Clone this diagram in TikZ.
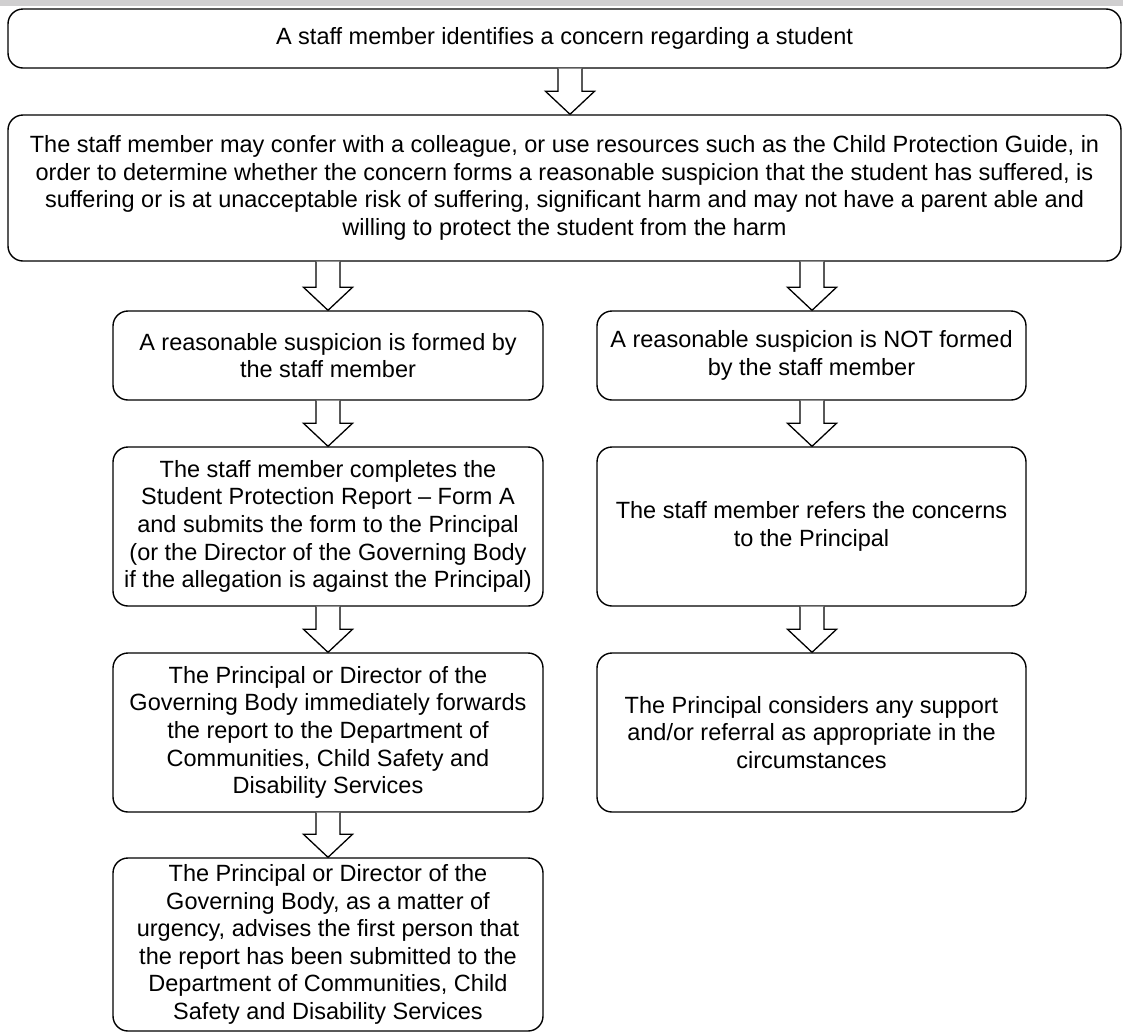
\documentclass[tikz,border=0pt]{standalone}
\usepackage{fontspec}
\setmainfont{Liberation Sans}
\usetikzlibrary{calc}
\definecolor{topbar}{RGB}{208,207,208}
\tikzset{
  box/.style={draw=black, line width=1.4pt, rounded corners=15pt, fill=white,
    align=center, inner sep=0pt, font=\fontsize{23.5}{27.6}\selectfont},
  barrowstyle/.style={draw=black, line width=1.3pt, fill=white, line join=miter},
}
% block arrow: #1 = x position, #2 = source node, #3 = target node
\newcommand{\blockarr}[3]{%
  \coordinate (ax) at (#1,0);
  \coordinate (atop) at (ax |- #2.south);
  \coordinate (atip) at (ax |- #3.north);
  \draw[barrowstyle] ($(atop)+(-12,0)$) -- ($(atip)+(-12,23)$) -- ($(atip)+(-24.5,23)$)
    -- (atip) -- ($(atip)+(24.5,23)$) -- ($(atip)+(12,23)$) -- ($(atop)+(12,0)$);
}
\begin{document}
\begin{tikzpicture}[x=1pt,y=1pt]
\useasboundingbox (0,0) rectangle (1123,-1034);
\fill[topbar] (0,0) rectangle (1123,-6);

\node[box, minimum width=1113, minimum height=59] (b1) at (564.5,-38.5)
  {A staff member identifies a concern regarding a student};
\node[box, minimum width=1113, minimum height=146] (b2) at (564.5,-188)
  {The staff member may confer with a colleague, or use resources such as the Child Protection Guide, in\\
   order to determine whether the concern forms a reasonable suspicion that the student has suffered, is\\
   suffering or is at unacceptable risk of suffering, significant harm and may not have a parent able and\\
   willing to protect the student from the harm};

\node[box, minimum width=430, minimum height=89] (la) at (328,-355.5)
  {A reasonable suspicion is formed by\\ the staff member};
\node[box, minimum width=430, minimum height=159] (lb) at (328,-526.5)
  {The staff member completes the\\ Student Protection Report -- Form A\\ and submits the form to the Principal\\
   (or the Director of the Governing Body\\ if the allegation is against the Principal)};
\node[box, minimum width=430, minimum height=159] (lc) at (328,-732.5)
  {The Principal or Director of the\\ Governing Body immediately forwards\\ the report to the Department of\\
   Communities, Child Safety and\\ Disability Services};
\node[box, minimum width=430, minimum height=173] (ld) at (328,-944.5)
  {The Principal or Director of the\\ Governing Body, as a matter of\\ urgency, advises the first person that\\
   the report has been submitted to the\\ Department of Communities, Child\\ Safety and Disability Services};

\node[box, minimum width=429, minimum height=89] (ra) at (811.5,-355.5)
  {A reasonable suspicion is NOT formed\\ by the staff member};
\node[box, minimum width=429, minimum height=159] (rb) at (811.5,-526.5)
  {The staff member refers the concerns\\ to the Principal};
\node[box, minimum width=429, minimum height=159] (rc) at (811.5,-732.5)
  {The Principal considers any support\\ and/or referral as appropriate in the\\ circumstances};

\blockarr{570}{b1}{b2}
\blockarr{328}{b2}{la}
\blockarr{812}{b2}{ra}
\blockarr{328}{la}{lb}
\blockarr{328}{lb}{lc}
\blockarr{328}{lc}{ld}
\blockarr{812}{ra}{rb}
\blockarr{812}{rb}{rc}
\end{tikzpicture}
\end{document}
